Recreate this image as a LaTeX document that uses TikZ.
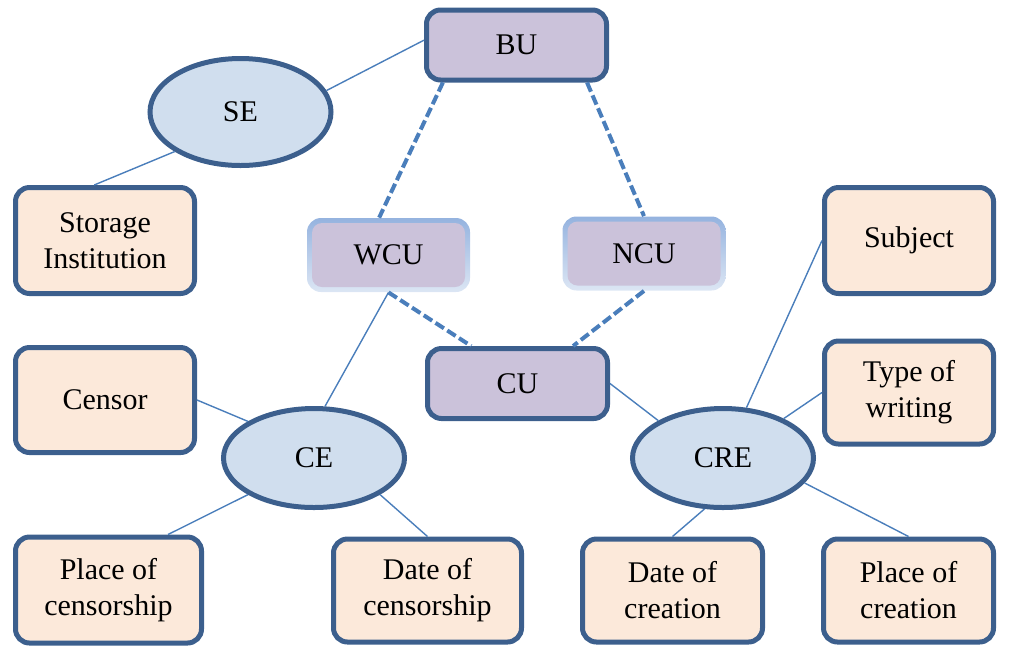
\documentclass[tikz,border=0pt]{standalone}
\usepackage{fontspec}
\setmainfont{Liberation Serif}
\usepackage{tikz}
\usetikzlibrary{shapes.geometric}

\definecolor{edgeDark}{HTML}{3C5F8D}
\definecolor{lineBlue}{HTML}{4A7EBB}
\definecolor{unitFill}{HTML}{CBC2DA}
\definecolor{entFill}{HTML}{D0DEEE}
\definecolor{attrFill}{HTML}{FCE9DA}
\definecolor{glowTop}{HTML}{95B3DF}
\definecolor{glowBot}{HTML}{DCE6F4}

\begin{document}
\begin{tikzpicture}
  [
    x=0.5pt, y=-0.5pt,
    every node/.style={font=\fontsize{15}{18}\selectfont, inner sep=1pt, align=center},
    box/.style={rectangle, rounded corners=7pt, draw=edgeDark, line width=2.5pt},
    unit/.style={box, fill=unitFill, minimum width=90pt, minimum height=35pt},
    soft/.style={rectangle, rounded corners=7pt, top color=glowTop, bottom color=glowBot,
      minimum width=81.5pt, minimum height=37pt,
      path picture={\fill[unitFill, rounded corners=5pt]
        ([shift={(2.5pt,-2.5pt)}]path picture bounding box.north west) rectangle
        ([shift={(-2.5pt,2.5pt)}]path picture bounding box.south east);}},
    ent/.style={ellipse, draw=edgeDark, line width=2.5pt, fill=entFill, inner sep=0pt,
      minimum width=90.5pt, minimum height=49.5pt},
    attr/.style={box, fill=attrFill, minimum width=89.5pt, minimum height=51.5pt},
    ln/.style={draw=lineBlue, line width=0.7pt},
    dl/.style={draw=lineBlue, line width=2pt, dash pattern=on 5pt off 2pt}
  ]
  \useasboundingbox (0,0) rectangle (1011,655);

  \node (BU)  at (516.5,45)    [unit] {BU};
  \node (CU)  at (517.5,383.5) [unit] {CU};
  \node (WCU) at (388.5,255)   [soft] {WCU};
  \node (NCU) at (644,253.5)   [soft] {NCU};

  \node (SE)  at (240.5,112) [ent, minimum height=53.5pt] {SE};
  \node (CE)  at (314,458)   [ent] {CE};
  \node (CRE) at (723,458)   [ent] {CRE};

  \node (storage)   at (105,240.5)   [attr, minimum height=53pt] {Storage\\Institution};
  \node (censor)    at (105,400)     [attr, minimum height=52.5pt] {Censor};
  \node (placeCens) at (108.5,590)   [attr, minimum width=93pt, minimum height=53pt] {Place of\\censorship};
  \node (dateCens)  at (427.5,590.5) [attr, minimum width=94pt] {Date of\\censorship};
  \node (dateCrea)  at (672.5,590.5) [attr, minimum width=90pt] {Date of\\creation};
  \node (placeCrea) at (908.5,590.5) [attr, minimum width=85pt] {Place of\\creation};
  \node (subject)   at (909,240.5)   [attr, minimum width=84.5pt, minimum height=53pt] {Subject};
  \node (typeWr)    at (909,392.5)   [attr, minimum width=84.5pt] {Type of\\writing};

  \draw [ln] (SE.14) -- (BU.177);
  \draw [ln] (SE.211) -- (storage.101);
  \draw [dl] (BU.207) -- (WCU.104);
  \draw [dl] (BU.-28) -- (NCU.north);
  \draw [dl] (WCU.south) -- (CU.141);
  \draw [dl] (NCU.south) -- (CU.34);
  \draw [ln] (WCU.south) -- (CE.78);
  \draw [ln] (censor.east) -- (CE.151);
  \draw [ln] (CE.209) -- (placeCens.43);
  \draw [ln] (CE.-29) -- (dateCens.north);
  \draw [ln] (CU.east) -- (CRE.150);
  \draw [ln] (CRE.65) -- (subject.west);
  \draw [ln] (CRE.33) -- (typeWr.west);
  \draw [ln] (CRE.250) -- (dateCrea.north);
  \draw [ln] (CRE.-17) -- (placeCrea.north);
\end{tikzpicture}
\end{document}
